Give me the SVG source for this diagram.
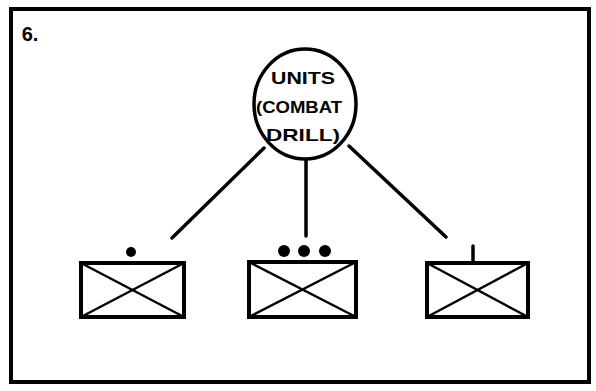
<svg xmlns="http://www.w3.org/2000/svg" width="596" height="391" viewBox="0 0 596 391">
<style>
.ln{stroke:#000;stroke-width:3.5;fill:none;stroke-linecap:round}
.box{stroke:#000;stroke-width:4;fill:#fff}
.x{stroke:#000;stroke-width:2.5}
.t{font-family:"Liberation Sans",Arial,sans-serif;font-weight:bold;fill:#000;text-anchor:middle}
</style>
<rect width="596" height="391" fill="#fff"/>
<rect id="frame" x="11" y="9" width="578" height="373" fill="none" stroke="#000" stroke-width="4"/>
<text class="t" x="30" y="41" font-size="20">6.</text>
<g id="connectors">
<line class="ln" x1="264" y1="148" x2="172" y2="238"/>
<line class="ln" x1="306" y1="159" x2="306" y2="236"/>
<line class="ln" x1="349" y1="146" x2="446" y2="237"/>
</g>
<g id="units">
<ellipse cx="305" cy="104" rx="51" ry="55" fill="#fff" stroke="#000" stroke-width="3.5"/>
<text class="t" x="303" y="84" font-size="17" textLength="64" lengthAdjust="spacingAndGlyphs">UNITS</text>
<text class="t" x="299" y="113" font-size="17" textLength="86" lengthAdjust="spacingAndGlyphs">(COMBAT</text>
<text class="t" x="303" y="141" font-size="17" textLength="74" lengthAdjust="spacingAndGlyphs">DRILL)</text>
</g>
<g id="unit-left">
<rect class="box" x="81" y="263" width="103" height="54"/>
<line class="x" x1="81" y1="263" x2="184" y2="317"/>
<line class="x" x1="184" y1="263" x2="81" y2="317"/>
<circle cx="131" cy="252" r="5" fill="#000"/>
</g>
<g id="unit-middle">
<rect class="box" x="249" y="262" width="107" height="55"/>
<line class="x" x1="249" y1="262" x2="356" y2="317"/>
<line class="x" x1="356" y1="262" x2="249" y2="317"/>
<circle cx="284" cy="251" r="6" fill="#000"/>
<circle cx="304" cy="251" r="6" fill="#000"/>
<circle cx="325" cy="251" r="6" fill="#000"/>
</g>
<g id="unit-right">
<rect class="box" x="427" y="263" width="101" height="54"/>
<line class="x" x1="427" y1="263" x2="528" y2="317"/>
<line class="x" x1="528" y1="263" x2="427" y2="317"/>
<line class="ln" x1="473" y1="246" x2="473" y2="262"/>
</g>
</svg>
